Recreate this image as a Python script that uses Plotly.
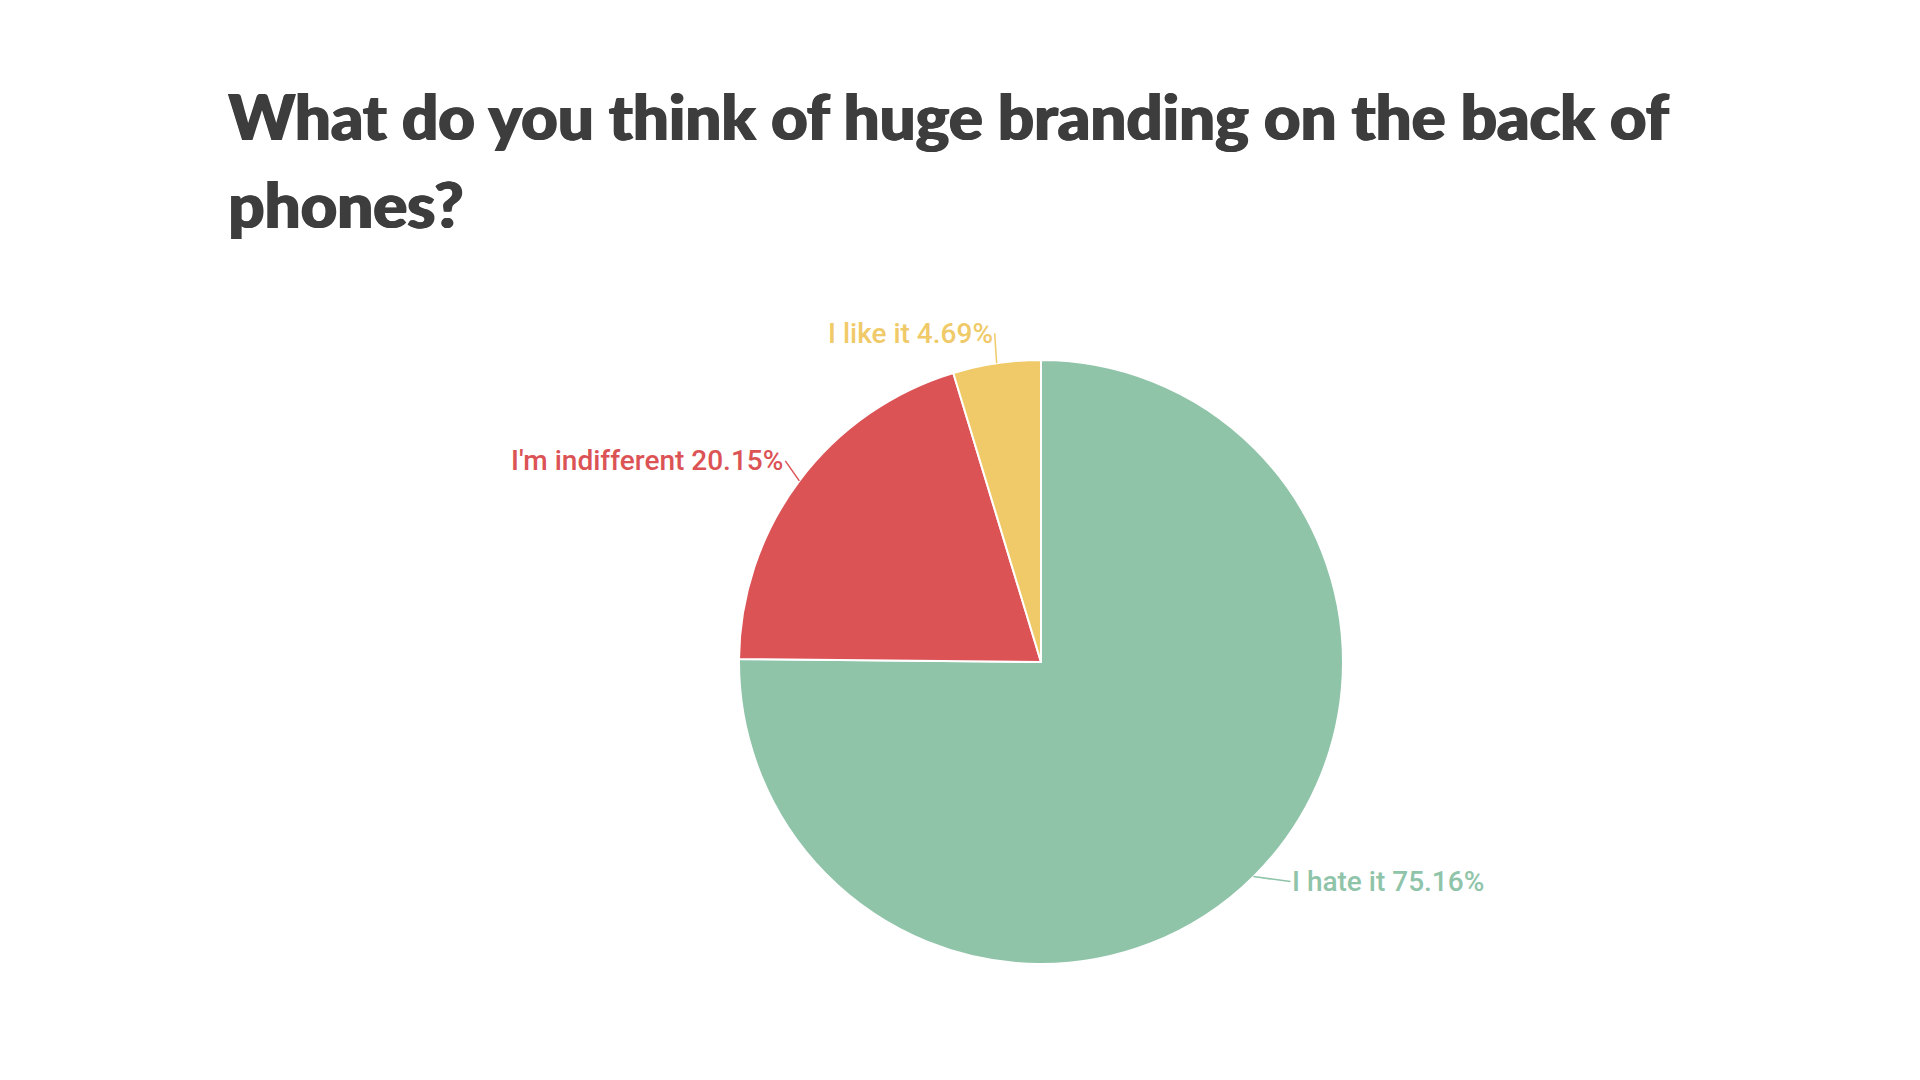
import math
import plotly.graph_objects as go

title_lines = ["What do you think of huge branding on the back of", "phones?"]
labels = ["I hate it", "I'm indifferent", "I like it"]
values = [75.16, 20.15, 4.69]
colors = ["#8FC4A9", "#DC5356", "#F0CA68"]

W, H = 1920, 1080
cx, cy, R = 1033, 654, 302  # pie centre / radius in pixels (page has 8px body margin)

fig = go.Figure()
fig.add_trace(go.Pie(
    labels=labels, values=values, sort=False, direction="clockwise", rotation=0,
    marker=dict(colors=colors, line=dict(color="white", width=2)),
    textinfo="none", hoverinfo="label+percent", showlegend=False,
    domain=dict(x=[(cx - R) / W, (cx + R) / W], y=[(H - cy - R) / H, (H - cy + R) / H]),
))

# label offsets (text anchor relative to edge point), in pixels
offsets = [(37, 5), (-14, -20), (-2, -30)]
xanch = ["left", "right", "right"]
total = sum(values)
cum = 0
for lab, v, col, (dx, dy), xa in zip(labels, values, colors, offsets, xanch):
    mid = (cum + v / 2) / total * 2 * math.pi
    cum += v
    px = cx + R * math.sin(mid)
    py = cy - R * math.cos(mid)
    fig.add_annotation(
        x=px / W, y=1 - py / H, xref="paper", yref="paper",
        text=f"{lab} {v:.2f}%", showarrow=True, arrowhead=0, arrowwidth=1.5,
        arrowcolor=col, ax=dx, ay=dy, xanchor=xa, yanchor="middle",
        font=dict(family="Roboto", size=28, color=col, weight=500),
    )

for i, line in enumerate(title_lines):
    fig.add_annotation(
        x=218 / W, y=1 - (107 + 89 * i) / H, xref="paper", yref="paper",
        text=line, showarrow=False, xanchor="left", yanchor="middle",
        font=dict(family="Lato", size=63.5, color="#3D3D3D", weight=900,
                  shadow="1.2px 0 0 #3D3D3D, -0.6px 0 0 #3D3D3D"),
    )

fig.update_layout(
    width=W, height=H, margin=dict(l=0, r=0, t=0, b=0),
    paper_bgcolor="white", plot_bgcolor="white",
)
fig.write_html("out.html")
